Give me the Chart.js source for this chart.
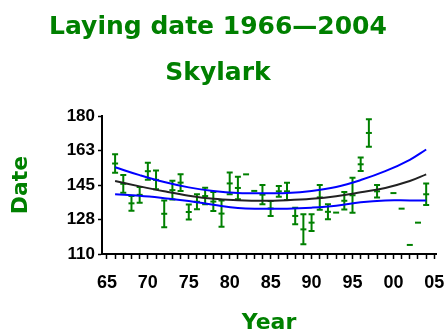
<!DOCTYPE html>
<html>
<head>
<meta charset="utf-8">
<script src="https://cdn.jsdelivr.net/npm/chart.js@4"></script>
<style>
  html, body { margin: 0; padding: 0; background: #fff; }
</style>
</head>
<body>
<canvas id="myChart" width="447" height="334"></canvas>
<script>
// chart values
const titleLines = ["Laying date 1966\u20142004", "Skylark"];
const years = [1966,1967,1968,1969,1970,1971,1972,1973,1974,1975,1976,1977,1978,1979,1980,
  1981,1982,1983,1984,1985,1986,1987,1988,1989,1990,1991,1992,1993,1994,1995,1996,1997,1998,
  1999,2000,2001,2002,2003,2004];
const means = [155.9,145.6,135.7,140.0,152.0,147.6,130.4,142.4,146.2,131.3,136.5,139.4,136.6,
  130.5,145.8,143.5,150.4,142.0,140.1,133.1,141.8,141.8,129.3,122.5,125.9,138.7,131.4,131.0,
  137.0,139.8,155.5,171.4,141.8,null,140.9,133.0,114.6,125.9,140.3];
const errs = [4.7,4.5,3.7,4.0,4.3,4.8,6.8,4.7,4.2,3.8,3.8,4.2,4.8,6.7,5.5,5.7,0,0,4.9,3.8,
  2.7,4.4,4.2,7.6,4.2,6.3,3.8,0,4.4,8.9,3.4,7.0,3.2,null,0,0,0,0,5.5];

// fitted trend and its band
const fitYears = [1966,1969,1972,1975,1978,1981,1984,1987,1990,1993,1996,1999,2002,2004];
const fitMid   = [147.0,144.3,141.8,139.6,138.0,137.3,137.0,137.3,138.0,139.3,141.3,143.5,147.0,150.4];
const fitUpper = [154.0,150.0,146.5,143.8,142.0,141.0,140.8,141.0,142.0,144.0,147.5,152.0,157.8,163.0];
const fitLower = [140.3,139.5,138.3,136.9,135.0,133.3,133.0,133.0,133.5,134.5,136.3,137.2,137.2,137.2];

// axis ticks
const xLabelYears = [1965,1970,1975,1980,1985,1990,1995,2000,2005];
const xLabels = ["65","70","75","80","85","90","95","00","05"];
const yTickValues = [110,127.5,145,162.5,180];
const yTickLabels = ["110","128","145","163","180"];

const green = "#008000";
const blue = "#0000ff";

function pairs(xs, ys) {
  return xs.map((v, i) => ({x: v, y: ys[i]}));
}

// vertical error bars with caps, drawn under the curves
const errorBars = {
  id: "errorBars",
  beforeDatasetsDraw(chart) {
    const {ctx, scales: {x, y}} = chart;
    ctx.save();
    ctx.strokeStyle = green;
    ctx.lineWidth = 2;
    years.forEach((yr, i) => {
      if (means[i] == null || !errs[i]) return;
      const px = x.getPixelForValue(yr);
      const top = y.getPixelForValue(means[i] + errs[i]);
      const bot = y.getPixelForValue(means[i] - errs[i]);
      ctx.beginPath();
      ctx.moveTo(px, top); ctx.lineTo(px, bot);
      ctx.moveTo(px - 3, top); ctx.lineTo(px + 3, top);
      ctx.moveTo(px - 3, bot); ctx.lineTo(px + 3, bot);
      ctx.stroke();
    });
    ctx.restore();
  }
};

let xTicks = [];
for (let yr = 1965; yr <= 2005; yr++) xTicks.push({value: yr});

const ctx = document.getElementById("myChart");
new Chart(ctx, {
  type: "line",
  data: {
    datasets: [
      {
        data: pairs(fitYears, fitUpper),
        borderColor: blue, borderWidth: 2, pointRadius: 0, tension: 0.4, order: 1
      },
      {
        data: pairs(fitYears, fitLower),
        borderColor: blue, borderWidth: 2, pointRadius: 0, tension: 0.4, order: 1
      },
      {
        data: pairs(fitYears, fitMid),
        borderColor: "#222", borderWidth: 2, pointRadius: 0, tension: 0.4, order: 0
      },
      {
        data: pairs(years, means),
        showLine: false,
        pointStyle: "line", pointRadius: 3,
        borderColor: green, borderWidth: 2, order: 5
      }
    ]
  },
  options: {
    responsive: false,
    animation: false,
    layout: { padding: { top: 0, left: 0, right: 11, bottom: 0 } },
    plugins: {
      legend: { display: false },
      tooltip: { enabled: false },
      title: {
        display: true,
        text: titleLines,
        color: green,
        font: { family: "DejaVu Sans", size: 25, weight: "bold", lineHeight: 1.84 },
        padding: { top: 4, bottom: 20 }
      }
    },
    scales: {
      x: {
        type: "linear",
        min: 1964.4, max: 2005.2,
        afterBuildTicks: s => { s.ticks = xTicks.slice(); },
        afterFit: s => { s.height = 80; s.paddingRight = 0; s.paddingLeft = 0; },
        ticks: {
          autoSkip: false, maxRotation: 0, padding: 13, color: "#000",
          font: { family: "Liberation Sans", size: 18, weight: "bold" },
          callback: v => {
            const i = xLabelYears.indexOf(v);
            return i >= 0 ? xLabels[i] : "";
          }
        },
        grid: { drawOnChartArea: false, tickLength: 5, color: "#000", tickWidth: 1.5 },
        border: { color: "#000", width: 2 },
        title: {
          display: true, text: "Year", color: green,
          font: { family: "DejaVu Sans", size: 22, weight: "bold", lineHeight: 1 },
          padding: { top: 0, bottom: 0 }
        }
      },
      y: {
        type: "linear",
        min: 110, max: 180,
        afterBuildTicks: s => { s.ticks = yTickValues.map(v => ({value: v})); },
        afterFit: s => { s.width = 102; },
        ticks: {
          padding: 3, color: "#000",
          font: { family: "Liberation Sans", size: 17, weight: "bold" },
          callback: v => yTickLabels[yTickValues.indexOf(v)]
        },
        grid: { drawOnChartArea: false, tickLength: 4, color: "#000", tickWidth: 1.5 },
        border: { color: "#000", width: 2 },
        title: {
          display: true, text: "Date", color: green,
          font: { family: "DejaVu Sans", size: 22, weight: "bold", lineHeight: 1 },
          padding: { top: 10 }
        }
      }
    }
  },
  plugins: [errorBars]
});
</script>
</body>
</html>
